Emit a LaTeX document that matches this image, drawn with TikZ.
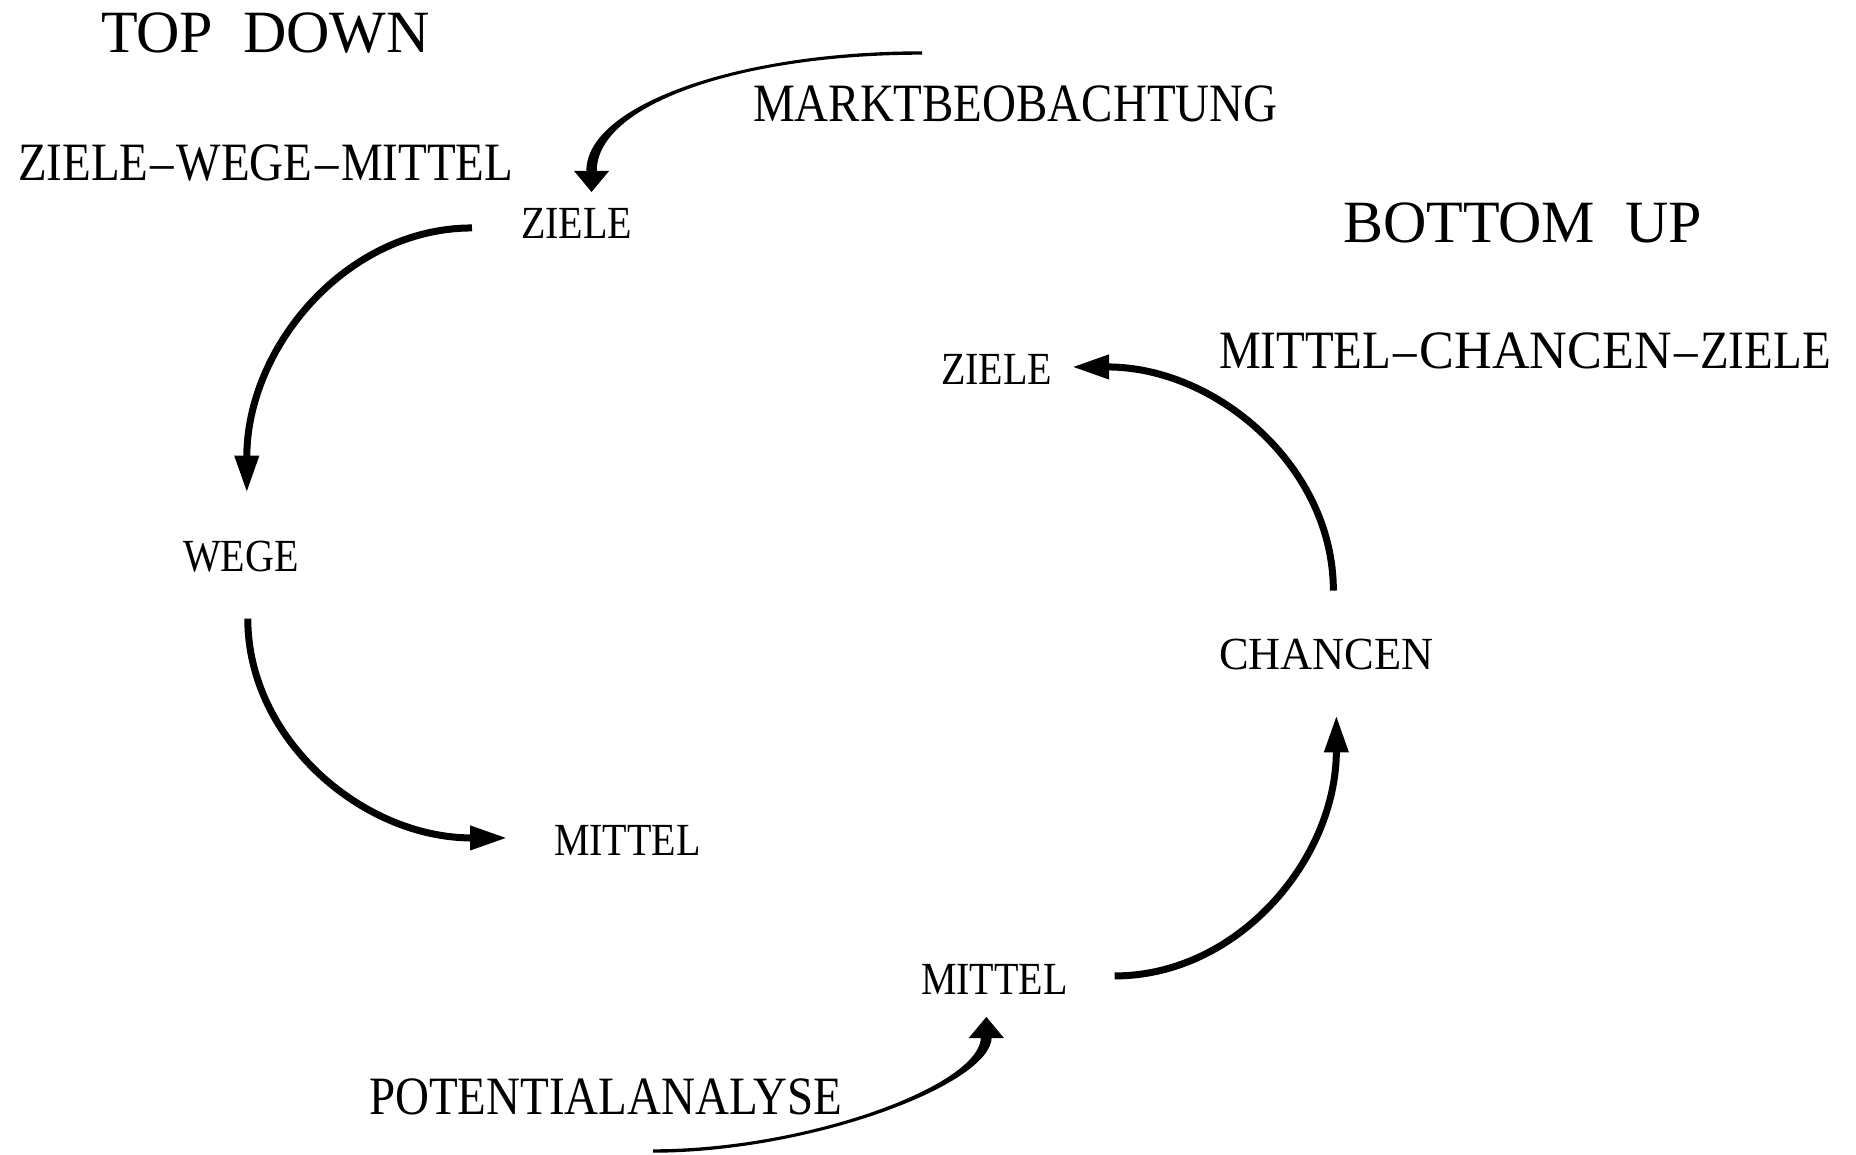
\documentclass[tikz,border=0pt]{standalone}
\usepackage{fontspec}
\setmainfont{Liberation Serif}[FakeStretch=0.87]
\newfontfamily\headfont{Liberation Serif}
\usetikzlibrary{arrows.meta,calc}

% spaced dash between the words of a sequence
\newcommand\seqdash{\kern2.5pt\textendash\kern2.5pt}
% slightly widened word
\newcommand\widened[1]{\scalebox{1.11}[1]{#1}}

% tapering band from #1 to #2 (out angle #3, in angle #4,
% out/in control distances #5/#6, half widths #7 at start and #8 at end)
\newcommand\taperband[8]{%
  \fill ($(#1)+(#3+90:#7)$) to[out=#3,in=#4,out distance=#5,in distance=#6] ($(#2)+(#4-90:#8)$)
    -- ($(#2)+(#4+90:#8)$) to[out=#4,in=#3,out distance=#6,in distance=#5] ($(#1)+(#3-90:#7)$)
    -- cycle;}

\begin{document}
\begin{tikzpicture}[x=1pt,y=-1pt,
  lbl/.style={anchor=base west,inner sep=0pt,outer sep=0pt},
  title/.style={lbl,font=\headfont\fontsize{60}{64}\selectfont},
  big/.style={lbl,font=\fontsize{54}{58}\selectfont},
  small/.style={lbl,font=\fontsize{46}{50}\selectfont},
  flow/.style={line width=7pt,-{Triangle[length=37pt,width=23pt]}},
  entryhead/.style={line width=0.5pt,-{Triangle[length=21pt,width=35pt]}}]
\useasboundingbox[fill=white] (0,0) rectangle (1856,1155);

% headings
\node[title] (td) at (101,53) {TOP\ \ DOWN};
\node[title] (bu) at (1343,243) {BOTTOM\ \ UP};
\node[big] (zwm) at (18,181) {ZIELE\seqdash WEGE\seqdash MITTEL};
\node[big] (mcz) at (1219,369) {MITTEL\seqdash\widened{CHANCEN}\seqdash ZIELE};
\node[big] (mbeo) at (753,122) {MARKTBEOBACHTUNG};
\node[big] (pana) at (369,1114) {POTENTIALANALYSE};

% top-down chain
\node[small] (zt) at (521,239) {ZIELE};
\node[small] (wg) at (183,571) {WEGE};
\node[small] (ml) at (554,855) {MITTEL};

% bottom-up chain
\node[small] (mu) at (921,994) {MITTEL};
\node[small] (ch) at (1219,669) {\widened{CHANCEN}};
\node[small] (zr) at (941,385) {ZIELE};

% connector end points next to the labels
\coordinate (a1s) at (922,53);
\coordinate (a1t) at ($(zt.north)+(15,-17)$);
\coordinate (a1b) at ($(a1t)+(0,-21)$);
\coordinate (a2s) at ($(zt.west)+(-49,4)$);
\coordinate (a2t) at ($(wg.north)+(6,-48)$);
\coordinate (a3s) at ($(wg.south)+(7,47)$);
\coordinate (a3t) at ($(ml.west)+(-47,-2)$);
\coordinate (a4s) at ($(mu.east)+(47,-3)$);
\coordinate (a4t) at ($(ch.south)+(10,46)$);
\coordinate (a5s) at ($(ch.north)+(7,-48)$);
\coordinate (a5t) at ($(zr.east)+(20,-3)$);
\coordinate (a6s) at (653,1151);
\coordinate (a6t) at ($(mu.south)+(-8,23)$);
\coordinate (a6b) at ($(a6t)+(0,20)$);

% entry arrows: tapering strokes
\taperband{a1s}{a1b}{180}{90}{183pt}{66pt}{1.7pt}{5.2pt}
\draw[entryhead] (a1b) -- (a1t);
\taperband{a6s}{a6b}{0}{-90}{155pt}{48pt}{1.7pt}{5.4pt}
\draw[entryhead] (a6b) -- (a6t);

% the two cycles
\draw[flow] (a2s) to[out=180,in=90,out distance=125pt,in distance=146pt] (a2t);
\draw[flow] (a3s) to[out=-90,in=180,out distance=121pt,in distance=144pt] (a3t);
\draw[flow] (a4s) to[out=0,in=-90,out distance=123pt,in distance=144pt] (a4t);
\draw[flow] (a5s) to[out=90,in=0,out distance=123pt,in distance=145pt] (a5t);
\end{tikzpicture}
\end{document}
